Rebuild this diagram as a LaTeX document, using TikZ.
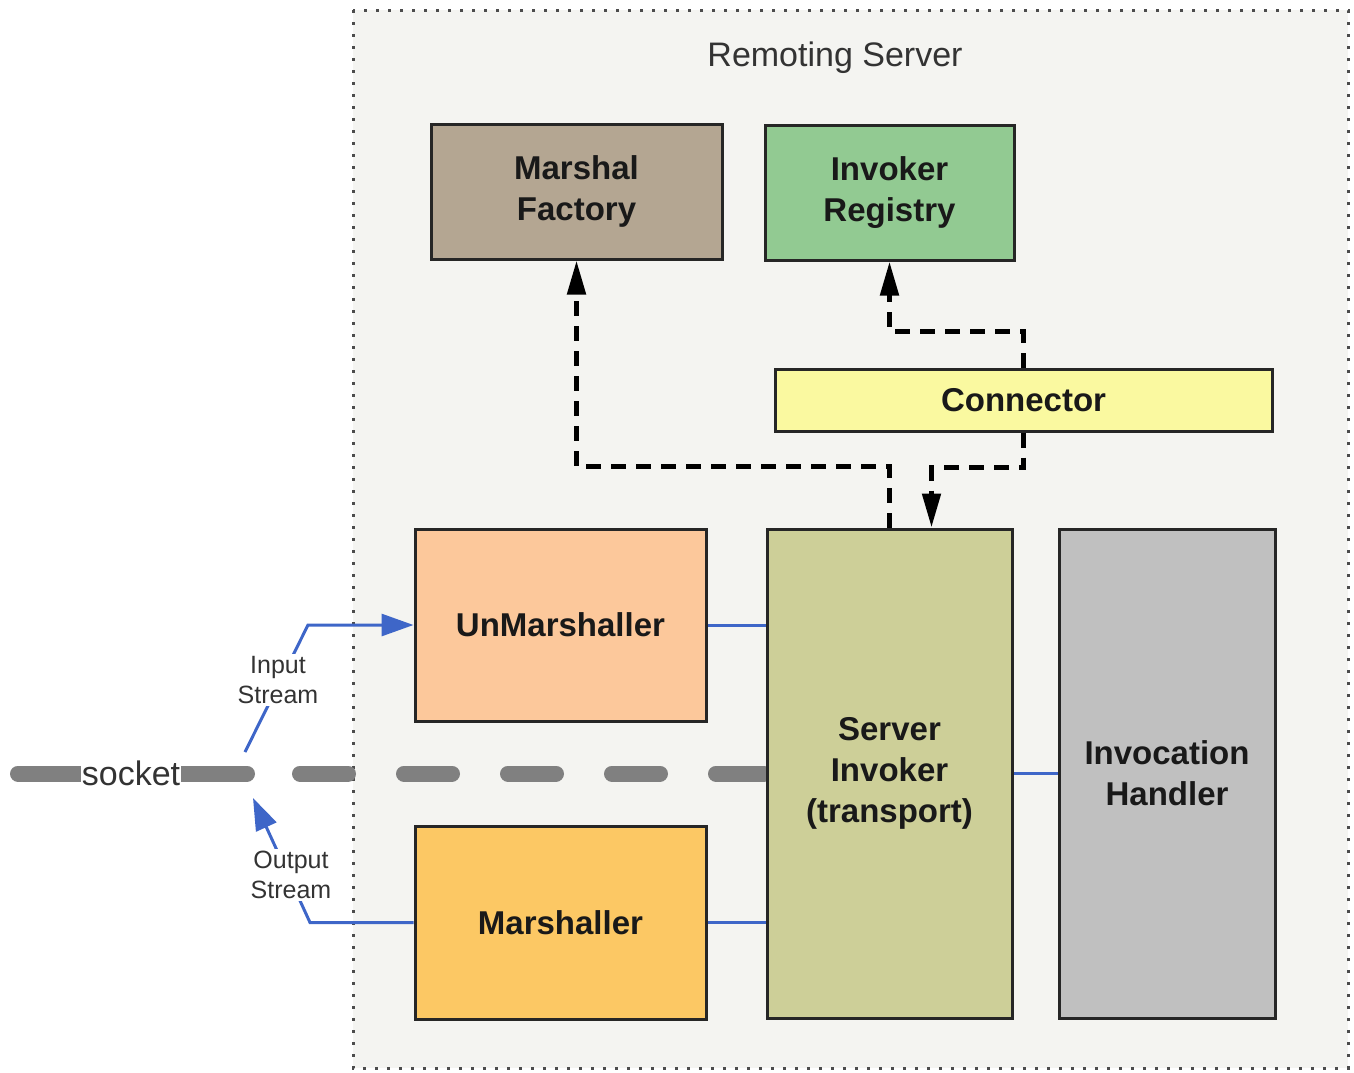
\documentclass[tikz,border=0pt]{standalone}
\usepackage{fontspec}
\setmainfont{Liberation Sans}
\usepackage{xcolor}
\definecolor{mfbrown}{RGB}{180,166,146}
\definecolor{irgreen}{RGB}{146,202,146}
\definecolor{cnyellow}{RGB}{250,249,160}
\definecolor{umpeach}{RGB}{252,200,155}
\definecolor{msorange}{RGB}{252,200,100}
\definecolor{siolive}{RGB}{205,207,152}
\definecolor{ihgray}{RGB}{192,192,192}
\definecolor{srvbg}{RGB}{244,244,241}
\definecolor{lnkblue}{RGB}{62,102,200}
\usetikzlibrary{arrows.meta,positioning,backgrounds}
\newcommand{\lnk}[2]{\draw[link] (#1.east) -- (#1.east -| #2.west)}

\begin{document}
\begin{tikzpicture}[
      x=0.5pt,y=-0.5pt,
      >={Triangle[length=16pt,width=11pt]},
      block/.style={rectangle,draw=black!85,line width=1.5pt,align=center,text=black!90,font=\bfseries\fontsize{16.5}{20.5}\selectfont},
      link/.style={draw=lnkblue,line width=1.5pt},
      dep/.style={->,>={Triangle[length=17pt,width=9pt]},line width=2.5pt,dash pattern=on 7.5pt off 5pt},
      streamlbl/.style={fill=white,inner sep=1pt,align=center,text=black!80,font=\fontsize{12.5}{15}\selectfont}]

      \useasboundingbox (0,0) rectangle (1354,1072);

      % Define nodes
      \node[text=black!80,font=\fontsize{17}{20}\selectfont] (RS) at (835,58) {Remoting Server};
      \node[block,fill=mfbrown,minimum width=145.5pt,minimum height=67.5pt] (MF) at (576.5,191.5) {Marshal\\Factory};
      \node[block,fill=irgreen,minimum width=124.5pt,minimum height=67.5pt] (IR) at (889.5,192.5) {Invoker\\Registry};
      \node[block,fill=cnyellow,minimum width=248.5pt,minimum height=31pt] (CN) at (1023.5,400) {Connector};
      \node[block,fill=umpeach,minimum width=145.5pt,minimum height=96pt] (UM) at (560.5,625) {UnMarshaller};
      \node[block,fill=msorange,minimum width=145.5pt,minimum height=96.5pt,below=51pt of UM] (MS) {Marshaller};
      \node[block,fill=siolive,minimum width=122.5pt,minimum height=244.5pt] (SI) at (889.5,773.5) {Server\\Invoker\\(transport)};
      \node[block,fill=ihgray,minimum width=108pt,minimum height=244.5pt,right=22pt of SI] (IH) {Invocation\\Handler};
      \node[fill=white,inner sep=0.5pt,text=black!80,font=\fontsize{17}{20}\selectfont] (SK) at (131,773.5) {socket};
      \coordinate (sk0) at (18,773.5);
      \coordinate (inA) at (245,752);
      \coordinate (inB) at (308,625);
      \coordinate (outB) at (310,920);
      \coordinate (outA) at (253,798);

      % Draw paths
      \begin{scope}[on background layer]
        \draw[fill=srvbg,draw=black!70,line width=1.5pt,dash pattern=on 1.5pt off 4.5pt] (353,10) rectangle (1348,1068);
        \draw[line width=8pt,line cap=round,draw=black!50,dash pattern=on 114.5pt off 26.5pt on 24pt off 28pt on 24pt off 28pt on 24pt off 28pt on 24pt off 28pt on 24pt off 28pt] (sk0) -- (SI.west);
      \end{scope}
      \lnk{UM}{SI};
      \lnk{MS}{SI};
      \lnk{SI}{IH};
      \draw[link,->] (inA) -- (inB) -- (UM.west);
      \draw[link,->] (MS.west) -- (MS.west -| outB) -- (outA);
      \node[streamlbl] (inL) at (278,680) {Input\\Stream};
      \node[streamlbl] (outL) at (291,875) {Output\\Stream};
      \draw[dep] (SI.north) -- ++(0,-61) -| (MF.south);
      \draw[dep] (CN.south) -- ++(0,35) -| ([xshift=21pt]SI.north);
      \draw[dep] (CN.north) -- ++(0,-36) -| (IR.south);

  \end{tikzpicture}
\end{document}
